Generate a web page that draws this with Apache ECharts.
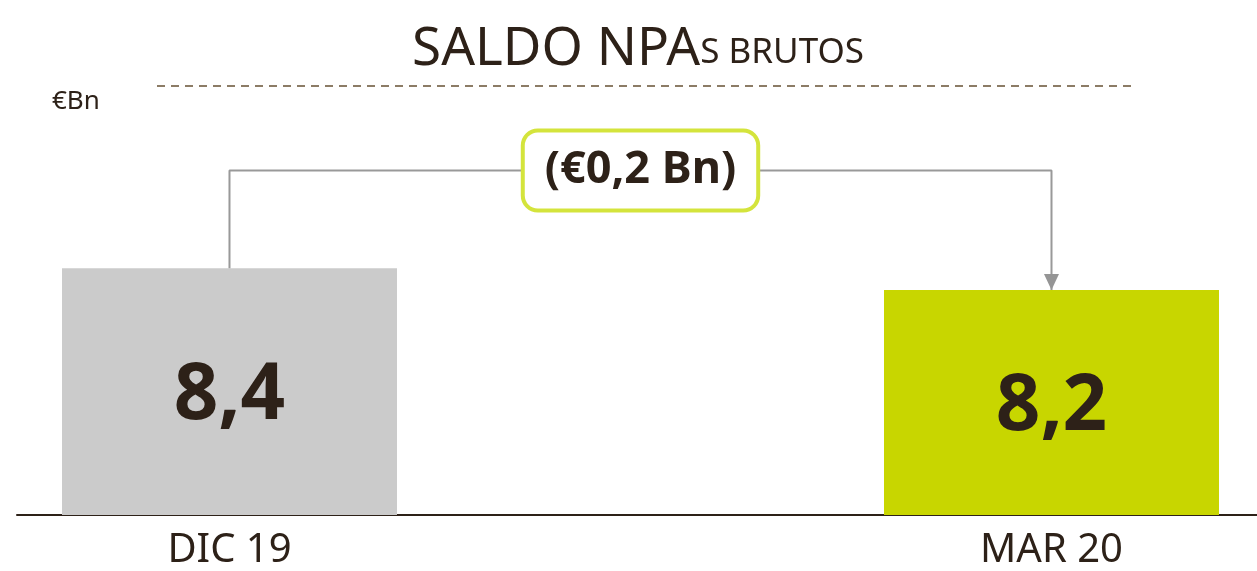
<!DOCTYPE html>
<html>
<head>
<meta charset="utf-8">
<script src="https://cdn.jsdelivr.net/npm/echarts@6/dist/echarts.min.js"></script>
<style>
  html, body { margin: 0; padding: 0; background: #ffffff; }
  #chart { width: 1257px; height: 571px; }
</style>
</head>
<body>
<div id="chart"></div>
<script>
// Gross NPA balance, € billions
const categories = ['DIC 19', 'MAR 20'];
const values = [8.4, 8.2];
const barColors = ['#cbcbcb', '#c8d600'];

const INK = '#2d2118';
const fmt = v => Math.abs(v).toFixed(1).replace('.', ',');

// value scale of the plot (not zero-based)
const yMin = 6.15, yMax = 9.75;
// height of the bracket joining the two bars
const bracketLevel = 9.29;

const change = values[1] - values[0];

const chart = echarts.init(document.getElementById('chart'), null, { renderer: 'canvas' });

chart.setOption({
  animation: false,
  backgroundColor: '#ffffff',
  textStyle: { fontFamily: 'Noto Sans' },
  grid: { left: 17, right: 0, top: 120, bottom: 55, containLabel: false },
  xAxis: {
    type: 'value',
    min: -0.2585,
    max: 1.25,
    splitLine: { show: false },
    axisTick: { show: false },
    axisLine: { show: true, onZero: false, lineStyle: { color: INK, width: 2 } },
    axisLabel: {
      customValues: [0, 1],
      formatter: v => categories[Math.round(v)],
      color: INK,
      fontFamily: 'Noto Sans',
      fontSize: 40,
      margin: 16
    }
  },
  yAxis: {
    type: 'value',
    min: yMin,
    max: yMax,
    show: false,
    splitLine: { show: false }
  },
  graphic: [
    {
      type: 'text',
      x: 638, y: 14,
      style: {
        text: '{a|SALDO NPA}{b|S BRUTOS}',
        align: 'center',
        rich: {
          a: { fontFamily: 'Noto Sans', fontSize: 53, fill: INK, color: INK, verticalAlign: 'bottom', lineHeight: 62 },
          b: { fontFamily: 'Noto Sans', fontSize: 35, fill: INK, color: INK, verticalAlign: 'bottom', lineHeight: 62, padding: [0, 0, 5, 0] }
        }
      }
    },
    {
      type: 'line',
      shape: { x1: 157, y1: 86, x2: 1131, y2: 86 },
      style: { stroke: '#8c7c66', lineWidth: 2, lineDash: [8, 6] }
    },
    {
      type: 'text',
      x: 52, y: 89,
      style: { text: '€Bn', fontFamily: 'Noto Sans', fontSize: 26, fill: INK }
    }
  ],
  series: [
    {
      type: 'bar',
      barWidth: 335,
      z: 2,
      data: values.map((v, i) => ({ value: [i, v], itemStyle: { color: barColors[i] } })),
      label: {
        show: true,
        position: 'inside',
        offset: [0, 5],
        formatter: p => fmt(p.value[1]),
        color: INK,
        fontFamily: 'Noto Sans',
        fontWeight: 'bold',
        fontSize: 78
      },
      silent: true
    },
    {
      type: 'line',
      z: 3,
      symbol: 'none',
      lineStyle: { color: '#999999', width: 2 },
      data: [
        [0, values[0]],
        [0, bracketLevel],
        [1, bracketLevel],
        {
          value: [1, values[1]],
          symbol: 'triangle',
          symbolSize: [15, 16],
          symbolRotate: 180,
          symbolOffset: [0, -8],
          itemStyle: { color: '#959595' }
        }
      ],
      markPoint: {
        symbol: 'rect',
        symbolSize: 0,
        silent: true,
        data: [{
          coord: [0.5, bracketLevel],
          label: {
            show: true,
            position: 'inside',
            formatter: '(€' + fmt(change) + ' Bn)',
            color: INK,
            fontFamily: 'Noto Sans',
            fontWeight: 'bold',
            fontSize: 45,
            lineHeight: 52,
            backgroundColor: '#ffffff',
            borderColor: '#d4e43c',
            borderWidth: 4,
            borderRadius: 13,
            padding: [12, 20, 12, 20]
          }
        }]
      },
      silent: true
    }
  ]
});
</script>
</body>
</html>
